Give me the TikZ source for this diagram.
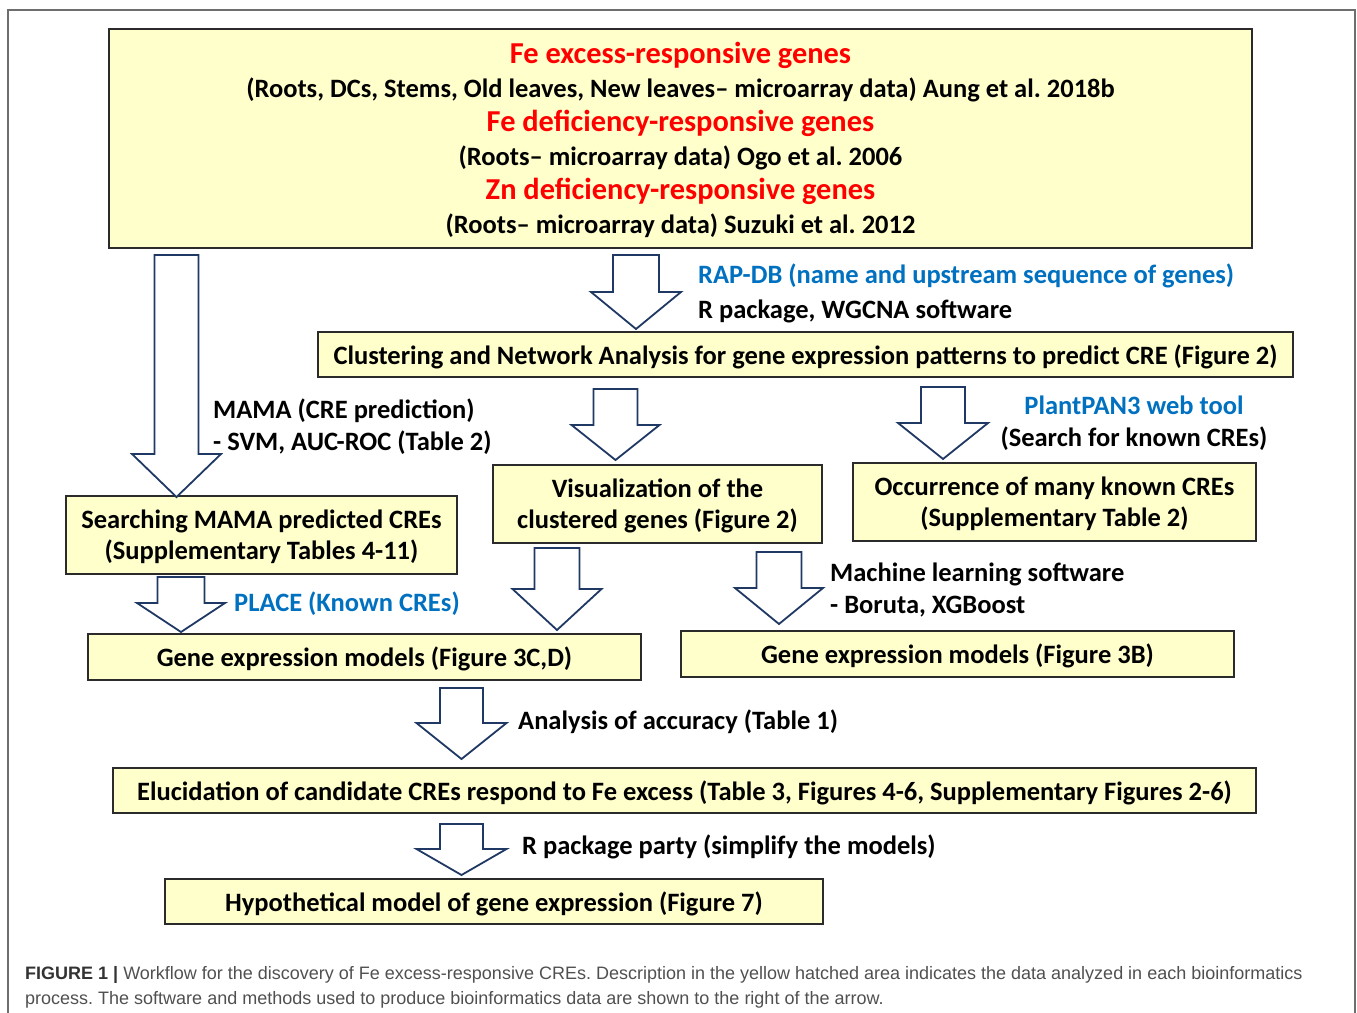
\documentclass[tikz,border=0pt]{standalone}
\usepackage{fontspec}
\setmainfont{Carlito}
\newfontfamily\capfont{Liberation Sans}
\frenchspacing
\definecolor{boxfill}{HTML}{FFFFCC}
\definecolor{boxline}{HTML}{2B2B2B}
\definecolor{arrowblue}{HTML}{1F3864}
\definecolor{linkblue}{HTML}{0070C0}
\definecolor{framegray}{HTML}{6E6E6E}
\definecolor{capgray}{HTML}{505050}
\newcommand\blockarr[6]{% cx, ytop, yhead, ytip, shaft half, head half
  \draw[blockarrow] ({#1-#5},#2) -- ({#1+#5},#2) -- ({#1+#5},#3) -- ({#1+#6},#3)
    -- (#1,#4) -- ({#1-#6},#3) -- ({#1-#5},#3) -- cycle;}
\begin{document}
\begin{tikzpicture}[x=1pt,y=-1pt,
  box/.style={draw=boxline, line width=1.3pt, fill=boxfill, inner sep=0pt, align=center,
    text depth=0.5pt, font=\bfseries\fontsize{26.5}{31.5}\selectfont},
  lbl/.style={inner sep=0pt, font=\bfseries\fontsize{26.5}{31.5}\selectfont},
  blockarrow/.style={draw=arrowblue, line width=1.8pt, line join=miter, fill=white},
  redt/.style={text=red},
  bluet/.style={text=linkblue}]
\useasboundingbox (0,0) rectangle (1357,1012);
\draw[framegray, line width=1.4pt] (8,1014) -- (8,10) -- (1355,10) -- (1355,1014);

% boxes
\node[box, minimum width=1143pt, minimum height=219pt, font=\bfseries\fontsize{26.5}{34}\selectfont] (top) at (680.5,138.5)
 {{\color{red}\fontsize{30.4}{34}\selectfont Fe excess-responsive genes}\\
  (Roots, DCs, Stems, Old leaves, New leaves– microarray data) Aung et al. 2018b\\
  {\color{red}\fontsize{30.4}{34}\selectfont Fe deficiency-responsive genes}\\
  (Roots– microarray data) Ogo et al. 2006\\
  {\color{red}\fontsize{30.4}{34}\selectfont Zn deficiency-responsive genes}\\
  (Roots– microarray data) Suzuki et al. 2012};
\node[box, minimum width=975pt, minimum height=45pt] (clus) at (805.5,354.5)
 {Clustering and Network Analysis for gene expression patterns to predict CRE (Figure 2)};
\node[box, minimum width=329pt, minimum height=78pt] (vis) at (657.5,504)
 {Visualization of the\\clustered genes (Figure 2)};
\node[box, minimum width=403pt, minimum height=78pt] (occ) at (1054.5,502)
 {Occurrence of many known CREs\\(Supplementary Table 2)};
\node[box, minimum width=391pt, minimum height=78pt] (search) at (261.5,535)
 {Searching MAMA predicted CREs\\(Supplementary Tables 4-11)};
\node[box, minimum width=553pt, minimum height=46pt] (gemA) at (364.5,657)
 {Gene expression models (Figure 3C,D)};
\node[box, minimum width=553pt, minimum height=46pt] (gemB) at (957.5,654)
 {Gene expression models (Figure 3B)};
\node[box, minimum width=1143pt, minimum height=45pt] (eluc) at (684.5,790.5)
 {Elucidation of candidate CREs respond to Fe excess (Table 3, Figures 4-6, Supplementary Figures 2-6)};
\node[box, minimum width=658pt, minimum height=45pt] (hyp) at (494,901.5)
 {Hypothetical model of gene expression (Figure 7)};

% block arrows
\blockarr{176.5}{255}{454}{497}{22}{44.5}
\blockarr{636}{255}{292}{329}{23}{45}
\blockarr{615.5}{389}{425}{460}{22}{44}
\blockarr{943}{387}{423}{459}{22}{45}
\blockarr{181}{577}{603}{632}{23.5}{44}
\blockarr{557}{548}{589}{630}{22.5}{44.5}
\blockarr{779}{552}{588}{624}{22.5}{44}
\blockarr{461.5}{688}{723}{759}{21.5}{45}
\blockarr{461.5}{824}{849}{875}{21.5}{45}

% labels
\node[lbl, bluet, anchor=base west] (rapdb) at (698,283) {RAP-DB (name and upstream sequence of genes)};
\node[lbl, anchor=base west] (wgcna) at (698,318) {R package, WGCNA software};
\node[lbl, anchor=base west] (mama) at (213,418) {MAMA (CRE prediction)};
\node[lbl, anchor=base west] (svm) at (213,450) {- SVM, AUC-ROC (Table 2)};
\node[lbl, bluet, anchor=base] (pan) at (1134,414) {PlantPAN3 web tool};
\node[lbl, anchor=base] (known) at (1134,446) {(Search for known CREs)};
\node[lbl, bluet, anchor=base west] (place) at (234,611) {PLACE (Known CREs)};
\node[lbl, anchor=base west] (ml) at (830,581) {Machine learning software};
\node[lbl, anchor=base west] (boruta) at (830,613) {- Boruta, XGBoost};
\node[lbl, anchor=base west] (acc) at (518,729) {Analysis of accuracy (Table 1)};
\node[lbl, anchor=base west] (party) at (522,854) {R package party (simplify the models)};

% caption
\node[inner sep=0pt, anchor=base west, align=left, text=capgray,
  font=\capfont\fontsize{18}{25}\selectfont] (cap) at (25,1004)
 {{\bfseries\color{black!80}FIGURE 1 |} Workflow for the discovery of Fe excess-responsive CREs. Description in the yellow hatched area indicates the data analyzed in each bioinformatics\\
  process. The software and methods used to produce bioinformatics data are shown to the right of the arrow.};
\end{tikzpicture}
\end{document}
